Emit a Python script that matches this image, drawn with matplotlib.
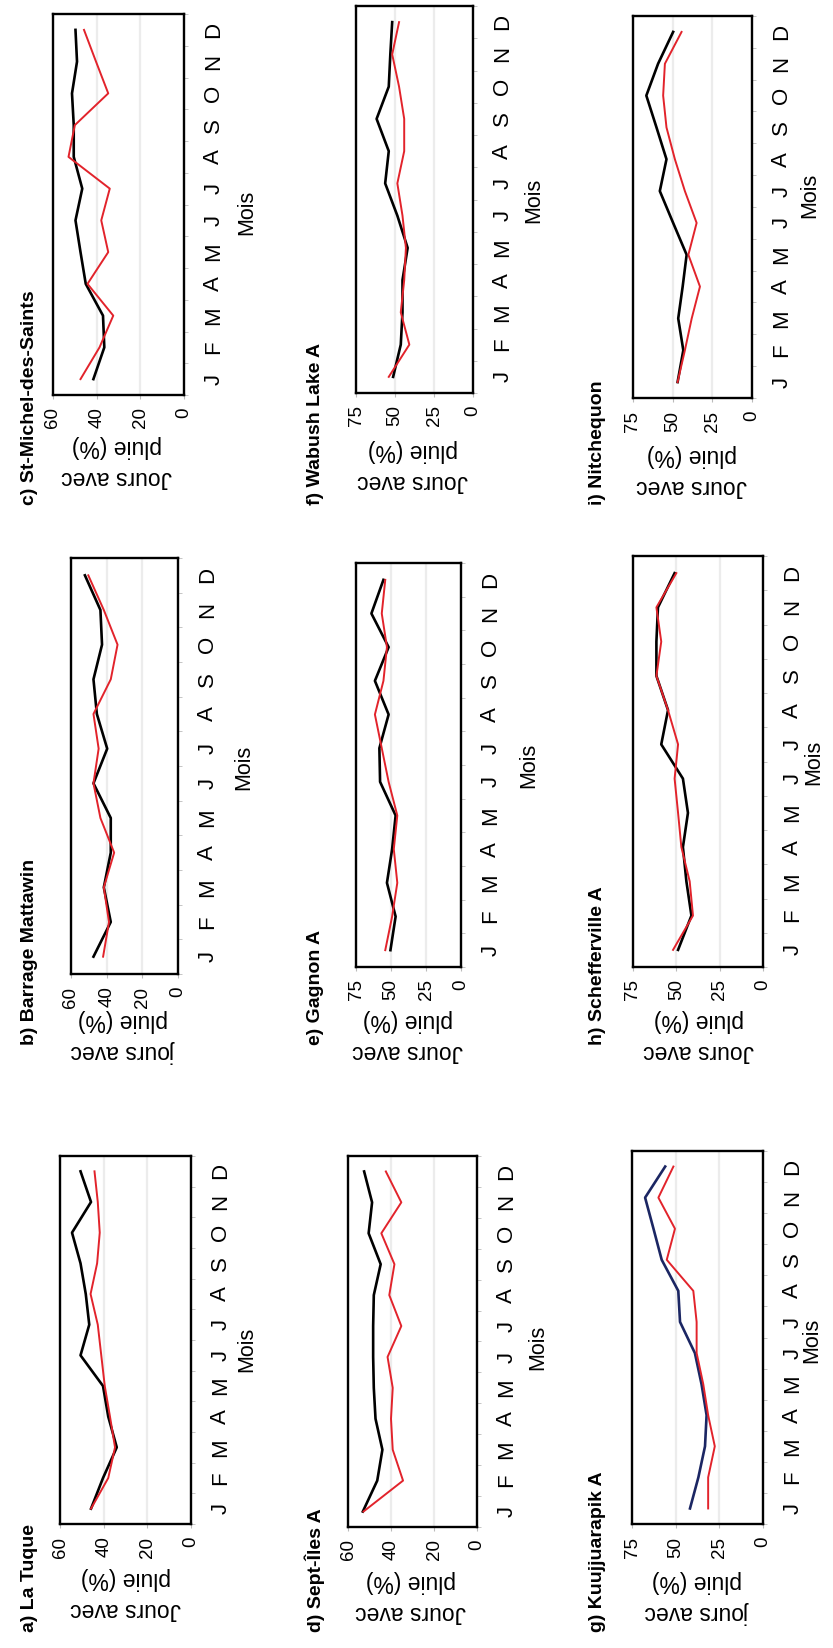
import matplotlib
matplotlib.use("Agg")
import matplotlib.pyplot as plt

W, H = 833, 1648

MONTHS = ["J", "F", "M", "A", "M", "J", "J", "A", "S", "O", "N", "D"]

# monthly share of days with rain (%), black/blue = first series, red = second
la_tuque_1 = [45.8, 40.3, 34.0, 37.9, 40.3, 50.6, 46.6, 48.2, 50.6, 54.5, 45.8, 50.6]
la_tuque_2 = [45.8, 37.9, 34.8, 37.1, 39.5, 41.1, 42.7, 46.0, 43.0, 41.8, 42.7, 44.2]

mattawin_1 = [47.4, 37.7, 41.6, 37.7, 37.7, 47.4, 39.7, 45.5, 47.4, 42.6, 43.5, 52.2]
mattawin_2 = [42.0, 38.7, 41.6, 35.8, 43.5, 47.4, 44.5, 47.4, 37.7, 33.9, 41.6, 50.3]

st_michel_1 = [41.5, 36.5, 37.1, 45.0, 47.4, 49.7, 46.6, 50.5, 50.5, 51.3, 49.0, 49.7]
st_michel_2 = [47.4, 38.7, 32.4, 44.2, 34.7, 37.9, 34.0, 52.9, 50.0, 34.7, 40.3, 45.8]

sept_iles_1 = [53.1, 46.4, 44.0, 47.2, 48.0, 48.3, 48.3, 48.0, 44.8, 50.4, 48.8, 52.5]
sept_iles_2 = [52.8, 34.4, 39.2, 40.0, 39.2, 41.6, 35.2, 40.8, 38.4, 44.5, 35.2, 42.4]

gagnon_1 = [50.4, 46.7, 52.9, 49.2, 46.7, 57.8, 58.3, 51.7, 61.5, 51.7, 64.0, 55.4]
gagnon_2 = [54.1, 49.2, 45.5, 48.0, 45.5, 51.7, 56.6, 61.5, 55.4, 52.9, 56.6, 54.1]

wabush_1 = [51.2, 46.3, 45.2, 45.2, 41.9, 48.5, 56.3, 54.0, 61.8, 54.0, 53.0, 51.8]
wabush_2 = [54.0, 40.8, 46.3, 44.1, 43.0, 45.2, 48.5, 44.1, 44.1, 47.4, 51.8, 47.4]

kuujjuarapik_1 = [41.8, 37.0, 33.2, 32.3, 35.2, 39.0, 47.5, 48.5, 58.0, 62.7, 67.5, 56.0]
kuujjuarapik_2 = [31.4, 31.4, 27.6, 31.4, 34.2, 38.0, 38.0, 39.9, 55.1, 50.4, 59.9, 51.3]

schefferville_1 = [49.0, 41.3, 44.2, 46.2, 43.3, 46.2, 58.7, 54.8, 61.5, 61.5, 60.6, 51.0]
schefferville_2 = [51.9, 40.4, 42.3, 47.1, 49.0, 51.0, 49.0, 54.8, 61.5, 58.7, 61.5, 50.0]

nitchequon_1 = [46.9, 43.3, 46.5, 43.7, 41.2, 49.7, 58.1, 53.9, 60.2, 66.6, 59.2, 49.7]
nitchequon_2 = [46.9, 42.3, 38.0, 32.8, 40.1, 34.9, 42.3, 48.6, 53.9, 56.0, 54.9, 44.4]

TICKS_60 = [0, 20, 40, 60]
TICKS_75 = [0, 25, 50, 75]

RED = "#e2232b"
NAVY = "#1b2663"

plt.rcParams["font.family"] = ["Liberation Sans", "DejaVu Sans"]


def fxy(x, y):
    """pixel position (from top-left) -> figure fraction"""
    return x / W, 1 - y / H


def panel(fig, box, title, s1, s2, ticks, ylab, title_at, ylab_at, mois_at, c1="black"):
    x0, y0, x1, y1 = box
    ax = fig.add_axes([x0 / W, 1 - y1 / H, (x1 - x0) / W, (y1 - y0) / H])
    m = range(len(MONTHS))
    ax.plot(s1, m, color=c1, lw=1.9, zorder=3)
    ax.plot(s2, m, color=RED, lw=1.4, zorder=4)

    # values run right-to-left, months bottom-to-top
    ax.set_xlim(ticks[-1], 0)
    ax.set_ylim(-0.5, 11.5)
    ax.set_xticks(ticks)
    ax.set_xticklabels([str(t) for t in ticks], rotation=90, fontsize=13.5)
    ax.tick_params(axis="x", length=3, color="#bbbbbb", pad=6)
    ax.grid(axis="x", color="#ececec", lw=1.6, zorder=0)

    ax.yaxis.tick_right()
    ax.set_yticks(list(m))
    ax.set_yticklabels(MONTHS, rotation=90, va="center", fontsize=16)
    ax.set_yticks([i - 0.5 for i in range(13)], minor=True)
    ax.tick_params(axis="y", which="major", length=0, pad=14)
    ax.tick_params(axis="y", which="minor", length=3, color="#bbbbbb")
    for sp in ax.spines.values():
        sp.set_linewidth(1.7)

    fig.text(*fxy(*title_at), title, rotation=90, ha="center", va="bottom",
             fontsize=14, fontweight="bold")
    fig.text(*fxy(*ylab_at), ylab, rotation=180, ha="center", va="center",
             multialignment="center", fontsize=16.5, linespacing=1.45)
    fig.text(*fxy(*mois_at), "Mois", rotation=90, ha="center", va="center", fontsize=15.5)


fig = plt.figure(figsize=(W / 100, H / 100), dpi=100)

panel(fig, (60, 1156, 191, 1524), "a) La Tuque", la_tuque_1, la_tuque_2, TICKS_60,
      "Jours avec\npluie (%)", (30, 1632), (126, 1594), (247, 1349))
panel(fig, (71, 558, 178, 974), "b) Barrage Mattawin", mattawin_1, mattawin_2, TICKS_60,
      "jours avec\npluie (%)", (30, 1045), (123, 1036), (244, 767))
panel(fig, (53, 14, 184, 395), "c) St-Michel-des-Saints", st_michel_1, st_michel_2, TICKS_60,
      "Jours avec\npluie (%)", (30, 505), (117, 462), (247, 212))

panel(fig, (348, 1156, 477, 1527), "d) Sept-Îles A", sept_iles_1, sept_iles_2, TICKS_60,
      "Jours avec\npluie (%)", (315, 1632), (411, 1597), (538, 1347))
panel(fig, (356, 563, 461, 967), "e) Gagnon A", gagnon_1, gagnon_2, TICKS_75,
      "Jours avec\npluie (%)", (315, 1045), (408, 1036), (529, 765))
panel(fig, (356, 6, 473, 393), "f) Wabush Lake A", wabush_1, wabush_2, TICKS_75,
      "Jours avec\npluie (%)", (315, 505), (413, 466), (534, 200))

panel(fig, (632, 1151, 763, 1524), "g) Kuujjuarapik A", kuujjuarapik_1, kuujjuarapik_2, TICKS_75,
      "jours avec\npluie (%)", (598, 1632), (697, 1597), (812, 1340), c1=NAVY)
panel(fig, (633, 556, 763, 967), "h) Schefferville A", schefferville_1, schefferville_2, TICKS_75,
      "Jours avec\npluie (%)", (597, 1045), (699, 1036), (814, 762))
panel(fig, (633, 16, 752, 398), "i) Nitchequon", nitchequon_1, nitchequon_2, TICKS_75,
      "Jours avec\npluie (%)", (597, 505), (692, 471), (810, 195))

fig.savefig("out.png", dpi=100, facecolor="white")
